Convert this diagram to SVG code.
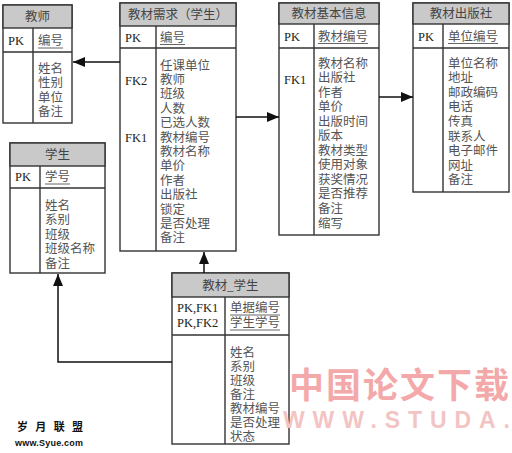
<svg xmlns="http://www.w3.org/2000/svg" width="512" height="453" viewBox="0 0 512 453" lang="zh-CN">
<defs>
<marker id="arr" markerWidth="12" markerHeight="10" refX="12" refY="5" orient="auto" markerUnits="userSpaceOnUse">
<path d="M0,0 L12,5 L0,10 Z" fill="#111"/>
</marker>
<style>
.box{fill:#fff;stroke:#333;stroke-width:1.4}
.hdr{fill:#c9c9c9;stroke:#333;stroke-width:1.4}
.ln{stroke:#333;stroke-width:1.4;fill:none}
.ul{stroke:#555;stroke-width:0.9}
.t{font-family:"Liberation Serif","Noto Sans CJK SC",serif;font-size:12.5px;fill:#555}
.h{font-family:"Liberation Serif","Noto Sans CJK SC",serif;font-size:12.5px;fill:#444;text-anchor:middle}
.k{font-family:"Liberation Serif",serif;font-size:12.5px;fill:#222}
.c{stroke:#111;stroke-width:1.5;fill:none}
</style>
</defs>
<rect width="512" height="453" fill="#fff"/>

<g id="teacher">
<rect class="box" x="3" y="5" width="69" height="118"/>
<rect class="hdr" x="3" y="5" width="69" height="23"/>
<line class="ln" x1="3" y1="52" x2="72" y2="52"/>
<line class="ln" x1="33" y1="28" x2="33" y2="123"/>
<text class="h" x="37.5" y="21">教师</text>
<text class="k" x="8" y="45">PK</text>
<text class="t" x="38" y="45">编号</text>
<line class="ul" x1="38" y1="48" x2="63" y2="48"/>
<text class="t" x="38" y="72.5"><tspan x="38">姓名</tspan><tspan x="38" dy="14.5">性别</tspan><tspan x="38" dy="14.5">单位</tspan><tspan x="38" dy="14.5">备注</tspan></text>
</g>

<g id="demand">
<rect class="box" x="120" y="3" width="116" height="248"/>
<rect class="hdr" x="120" y="3" width="116" height="23"/>
<line class="ln" x1="120" y1="48" x2="236" y2="48"/>
<line class="ln" x1="156" y1="26" x2="156" y2="251"/>
<text class="h" x="178" y="19">教材需求（学生）</text>
<text class="k" x="125" y="41.5">PK</text>
<text class="t" x="160" y="41.5">编号</text>
<line class="ul" x1="160" y1="44.5" x2="185" y2="44.5"/>
<text class="k" x="125" y="84.5"><tspan x="125">FK2</tspan><tspan x="125" dy="57.6">FK1</tspan></text>
<text class="t" x="160" y="69.5"><tspan x="160">任课单位</tspan><tspan x="160" dy="14.4">教师</tspan><tspan x="160" dy="14.4">班级</tspan><tspan x="160" dy="14.4">人数</tspan><tspan x="160" dy="14.4">已选人数</tspan><tspan x="160" dy="14.4">教材编号</tspan><tspan x="160" dy="14.4">教材名称</tspan><tspan x="160" dy="14.4">单价</tspan><tspan x="160" dy="14.4">作者</tspan><tspan x="160" dy="14.4">出版社</tspan><tspan x="160" dy="14.4">锁定</tspan><tspan x="160" dy="14.4">是否处理</tspan><tspan x="160" dy="14.4">备注</tspan></text>
</g>

<g id="bookinfo">
<rect class="box" x="279" y="3" width="100" height="232"/>
<rect class="hdr" x="279" y="3" width="100" height="21"/>
<line class="ln" x1="279" y1="48" x2="379" y2="48"/>
<line class="ln" x1="314" y1="24" x2="314" y2="235"/>
<text class="h" x="329" y="18">教材基本信息</text>
<text class="k" x="284" y="40.5">PK</text>
<text class="t" x="318" y="40.5">教材编号</text>
<line class="ul" x1="318" y1="43.5" x2="368" y2="43.5"/>
<text class="k" x="284" y="83.5">FK1</text>
<text class="t" x="318" y="67.5"><tspan x="318">教材名称</tspan><tspan x="318" dy="14.55">出版社</tspan><tspan x="318" dy="14.55">作者</tspan><tspan x="318" dy="14.55">单价</tspan><tspan x="318" dy="14.55">出版时间</tspan><tspan x="318" dy="14.55">版本</tspan><tspan x="318" dy="14.55">教材类型</tspan><tspan x="318" dy="14.55">使用对象</tspan><tspan x="318" dy="14.55">获奖情况</tspan><tspan x="318" dy="14.55">是否推荐</tspan><tspan x="318" dy="14.55">备注</tspan><tspan x="318" dy="14.55">缩写</tspan></text>
</g>

<g id="publisher">
<rect class="box" x="413" y="3" width="96" height="189"/>
<rect class="hdr" x="413" y="3" width="96" height="21"/>
<line class="ln" x1="413" y1="48" x2="509" y2="48"/>
<line class="ln" x1="443" y1="24" x2="443" y2="192"/>
<text class="h" x="461" y="18">教材出版社</text>
<text class="k" x="418" y="40.5">PK</text>
<text class="t" x="448" y="40.5">单位编号</text>
<line class="ul" x1="448" y1="43.5" x2="498" y2="43.5"/>
<text class="t" x="448" y="67.5"><tspan x="448">单位名称</tspan><tspan x="448" dy="14.6">地址</tspan><tspan x="448" dy="14.6">邮政编码</tspan><tspan x="448" dy="14.6">电话</tspan><tspan x="448" dy="14.6">传真</tspan><tspan x="448" dy="14.6">联系人</tspan><tspan x="448" dy="14.6">电子邮件</tspan><tspan x="448" dy="14.6">网址</tspan><tspan x="448" dy="14.6">备注</tspan></text>
</g>

<g id="student">
<rect class="box" x="10" y="143" width="95" height="130"/>
<rect class="hdr" x="10" y="143" width="95" height="23"/>
<line class="ln" x1="10" y1="188" x2="105" y2="188"/>
<line class="ln" x1="40" y1="166" x2="40" y2="273"/>
<text class="h" x="57.5" y="159">学生</text>
<text class="k" x="15" y="181">PK</text>
<text class="t" x="45" y="181">学号</text>
<line class="ul" x1="45" y1="184" x2="70" y2="184"/>
<text class="t" x="45" y="209.5"><tspan x="45">姓名</tspan><tspan x="45" dy="14.5">系别</tspan><tspan x="45" dy="14.5">班级</tspan><tspan x="45" dy="14.5">班级名称</tspan><tspan x="45" dy="14.5">备注</tspan></text>
</g>

<g id="bookstudent">
<rect class="box" x="172" y="273" width="117" height="171"/>
<rect class="hdr" x="172" y="273" width="117" height="24"/>
<line class="ln" x1="172" y1="335" x2="289" y2="335"/>
<line class="ln" x1="225" y1="297" x2="225" y2="444"/>
<text class="h" x="230.5" y="290">教材_学生</text>
<text class="k" x="177" y="312"><tspan x="177">PK,FK1</tspan><tspan x="177" dy="15">PK,FK2</tspan></text>
<text class="t" x="230" y="312"><tspan x="230">单据编号</tspan><tspan x="230" dy="15">学生学号</tspan></text>
<line class="ul" x1="230" y1="315" x2="280" y2="315"/>
<line class="ul" x1="230" y1="330" x2="280" y2="330"/>
<text class="t" x="230" y="356.5"><tspan x="230">姓名</tspan><tspan x="230" dy="14.1">系别</tspan><tspan x="230" dy="14.1">班级</tspan><tspan x="230" dy="14.1">备注</tspan><tspan x="230" dy="14.1">教材编号</tspan><tspan x="230" dy="14.1">是否处理</tspan><tspan x="230" dy="14.1">状态</tspan></text>
</g>

<g id="connectors">
<line class="c" x1="120" y1="62" x2="73" y2="62" marker-end="url(#arr)"/>
<line class="c" x1="236" y1="117" x2="279" y2="117" marker-end="url(#arr)"/>
<line class="c" x1="379" y1="97" x2="413" y2="97" marker-end="url(#arr)"/>
<line class="c" x1="204" y1="273" x2="204" y2="252" marker-end="url(#arr)"/>
<polyline class="c" points="172,362 58,362 58,274" marker-end="url(#arr)"/>
</g>

<g id="watermarks">
<text x="289" y="398" font-family="Noto Sans CJK SC,sans-serif" font-weight="bold" font-size="35" fill="#f3a9a9" textLength="220" lengthAdjust="spacing">中国论文下载</text>
<text x="283" y="428" font-family="Liberation Sans,sans-serif" font-weight="bold" font-size="23" fill="#f2c4c4" textLength="227" lengthAdjust="spacing">WWW.STUDA.</text>
<text x="17" y="431" font-family="Noto Sans CJK SC,sans-serif" font-weight="bold" font-size="11" fill="#111" textLength="66" lengthAdjust="spacing">岁月联盟</text>
<text x="15" y="446" font-family="Liberation Sans,sans-serif" font-weight="bold" font-size="9" fill="#111" textLength="68" lengthAdjust="spacing">www.Syue.com</text>
</g>
</svg>
